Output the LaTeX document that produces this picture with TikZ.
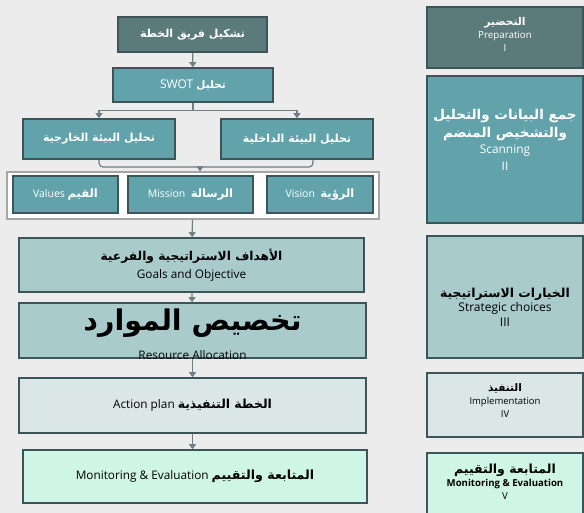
\documentclass[tikz,border=0pt]{standalone}
\usepackage{fontspec}
\setmainfont{Open Sans}
\newfontfamily\arabicfont[Script=Arabic]{DejaVu Sans}
\TeXXeTstate=1
\usetikzlibrary{arrows.meta,calc}
\definecolor{bgcol}{HTML}{ECECEC}
\definecolor{darkfill}{HTML}{5B7A7A}
\definecolor{tealfill}{HTML}{62A3AB}
\definecolor{lightteal}{HTML}{A9CBCC}
\definecolor{palefill}{HTML}{DBE7E7}
\definecolor{mintfill}{HTML}{CFF5E6}
\definecolor{edgecol}{HTML}{3B5559}
\definecolor{arrcol}{HTML}{6D7E84}
% Arabic bold run, optional size
\newcommand{\arb}[2][10]{{\fontsize{#1}{#1}\selectfont\arabicfont\bfseries\beginR #2\endR}}
\newcommand{\fs}[1]{\fontsize{#1}{#1}\selectfont}
\tikzset{
  box/.style={draw=edgecol, line width=1.6pt, inner sep=2pt, align=center},
  txt/.style={align=center, inner sep=0pt},
  conn/.style={draw=arrcol, line width=1.2pt},
  arr/.style={conn, -{Triangle[length=5pt,width=7pt]}},
}
\begin{document}
\begin{tikzpicture}[x=1pt,y=-1pt]
			%%%%% START %%%%%
			\useasboundingbox (0,0) rectangle (584,513);
			\fill[bgcol] (0,0) rectangle (584,513);
			
			% left flow
			\node[box, fill=darkfill, minimum width=149pt, minimum height=35pt, text=white] (team) at (192.5,34.5) {\arb[11]{تشكيل فريق الخطة}};
			\node[box, fill=tealfill, minimum width=160pt, minimum height=34pt, text=white, font=\fs{12}] (swot) at (193,85) {SWOT \arb[10.5]{تحليل}};
			\node[box, fill=tealfill, minimum width=152pt, minimum height=40pt, text=white] (ext) at (99,139) {\arb[11]{تحليل البيئة الخارجية}};
			\node[box, fill=tealfill, minimum width=152pt, minimum height=40pt, text=white] (int) at (297,139) {\arb[11]{تحليل البيئة الداخلية}};
			
			\node[draw=gray!70, fill=white!96!bgcol, line width=1.2pt, minimum width=372pt, minimum height=47pt] (frame) at (193,195.5) {};
			\node[box, fill=tealfill, minimum width=105pt, minimum height=37pt, text=white, font=\fs{10.5}] (values) at (65.5,194.5) {Values \arb[11.5]{القيم}};
			\node[box, fill=tealfill, minimum width=125pt, minimum height=37pt, text=white, font=\fs{10.5}] (mission) at (190.5,194.5) {Mission\ \ \arb[11.5]{الرسالة}};
			\node[box, fill=tealfill, minimum width=106pt, minimum height=37pt, text=white, font=\fs{10.5}] (vision) at (320,194.5) {Vision\ \ \arb[11.5]{الرؤية}};
			
			\node[box, fill=lightteal, minimum width=345pt, minimum height=54pt, font=\fontsize{11.8}{18}\selectfont] (goals) at (191.5,265) {\arb[12.2]{الأهداف الاستراتيجية والفرعية}\\Goals and Objective};
			\node[box, fill=lightteal, minimum width=347pt, minimum height=55pt] (res) at (192.5,330.5) {};
			\node (resar) at (192.5,323) {\arb[28.5]{تخصيص الموارد}};
			\begin{scope}
			\clip (res.north west) rectangle (res.south east);
			\node[font=\fs{11.8}] (resen) at (192.5,355) {Resource Allocation};
			\end{scope}
			\node[box, fill=palefill, minimum width=347pt, minimum height=55pt, font=\fs{11.8}] (action) at (192.5,405.5) {Action plan \arb[12.4]{الخطة التنفيذية}};
			\node[box, fill=mintfill, minimum width=344pt, minimum height=53pt, font=\fs{11.8}] (monit) at (195,476.5) {Monitoring \& Evaluation \arb[12.6]{المتابعة والتقييم}};
			
			% right column
			\node[box, fill=darkfill, minimum width=156pt, minimum height=61pt] (prep) at (505,37.5) {};
			\node[txt, text=white, font=\fontsize{9.8}{13}\selectfont] (preptxt) at (505,34.5) {\arb[10.7]{التحضير}\\Preparation\\I};
			\node[box, fill=tealfill, minimum width=156pt, minimum height=147pt] (scan) at (505,149.5) {};
			\node[txt, text=white, font=\fontsize{11.9}{16.5}\selectfont] (scantxt) at (505,139.5) {\arb[13.5]{جمع البيانات والتحليل}\\[1.5pt]\arb[13.5]{والتشخيص المنضم}\\Scanning\\II};
			\node[box, fill=lightteal, minimum width=156pt, minimum height=122pt] (strat) at (505,297) {};
			\node[txt, font=\fontsize{12}{14.5}\selectfont] (strattxt) at (505,307) {\arb[12.4]{الخيارات الاستراتيجية}\\Strategic choices\\III};
			\node[box, fill=palefill, minimum width=156pt, minimum height=64pt] (impl) at (505,405) {};
			\node[txt, font=\fontsize{9.5}{13}\selectfont] (impltxt) at (505,401) {\arb[10.4]{التنفيذ}\\Implementation\\IV};
			\node[box, fill=mintfill, minimum width=156pt, minimum height=72pt] (mon2) at (505,489) {};
			\node[txt, font=\fontsize{9.6}{13}\selectfont] (mon2txt) at (505,482) {\arb[12.5]{المتابعة والتقييم}\\\textbf{Monitoring \& Evaluation}\\V};
			
			% connectors
			\draw[arr] (team) -- (swot);
			\draw[arr] (swot.south) -- ++(0,8) -| (ext.north);
			\draw[arr] (swot.south) -- ++(0,8) -| (int.north);
			\coordinate (join) at (200,167);
			\draw[conn, rounded corners=4pt] (ext.south) |- (join) -| ([xshift=16pt]int.south);
			\draw[arr] (join) -- (join |- frame.north);
			\draw[arr] (frame) -- (goals);
			\draw[arr] (goals) -- (res);
			\draw[arr] (res) -- (action);
			\draw[arr] (action.south) -- (action.south |- monit.north);
			%%%%% END %%%%%
		\end{tikzpicture}
\end{document}
